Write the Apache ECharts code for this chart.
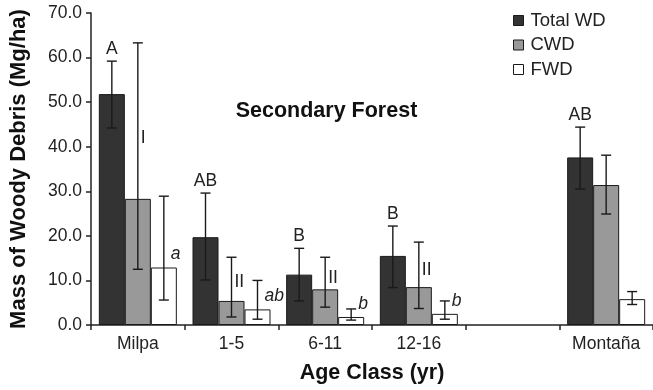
<!DOCTYPE html>
<html>
<head>
<meta charset="utf-8">
<script src="https://cdn.jsdelivr.net/npm/echarts@6/dist/echarts.min.js"></script>
<style>
  html, body { margin: 0; padding: 0; background: #fff; }
  #chart { width: 653px; height: 390px; }
</style>
</head>
<body>
<div id="chart"></div>
<script type="text/javascript">
    // data (Mg/ha)
    var categories = ['Milpa', '1-5', '6-11', '12-16', '', 'Montaña'];
    var seriesNames = ['Total WD', 'CWD', 'FWD'];

    var totalWD = [51.8, 19.7, 11.3, 15.5, null, 37.6];
    var totalLo = [44.2, 10.1, 5.4, 8.4, null, 30.5];
    var totalHi = [59.2, 29.6, 17.2, 22.2, null, 44.4];

    var cwd = [28.3, 5.4, 8.0, 8.5, null, 31.4];
    var cwdLo = [12.5, 1.8, 4.0, 3.7, null, 24.9];
    var cwdHi = [63.3, 15.2, 15.2, 18.6, null, 38.1];

    var fwd = [12.9, 3.5, 1.8, 2.5, null, 5.8];
    var fwdLo = [5.6, 1.3, 1.1, 1.3, null, 4.6];
    var fwdHi = [28.9, 10.0, 3.6, 5.4, null, 7.5];

    // significance letters
    var totalLetters = ['A', 'AB', 'B', 'B', '', 'AB'];
    var cwdLetters = ['I', 'II', 'II', 'II', '', ''];
    var fwdLetters = ['a', 'ab', 'b', 'b', '', ''];

    var yTicks = [0, 10, 20, 30, 40, 50, 60, 70];

    var FONT = 'Liberation Sans, Arial, sans-serif';
    var BAR_W = 26;
    var colors = ['#333333', '#999999', '#ffffff'];

    var myChart = echarts.init(document.getElementById('chart'));

    function barData(vals) {
        return vals.map(function (v) { return v == null ? '-' : v; });
    }

    function errData(vals, lo, hi) {
        var out = [];
        for (var i = 0; i < vals.length; i++) {
            if (vals[i] != null) out.push([i, vals[i], lo[i], hi[i]]);
        }
        return out;
    }

    // error bars + letters, drawn on top of the bars
    function errSeries(k, vals, lo, hi, letters) {
        return {
            name: seriesNames[k] + ' err',
            type: 'custom',
            z: 5,
            data: errData(vals, lo, hi),
            encode: { x: 0, y: [2, 3] },
            renderItem: function (params, api) {
                var i = api.value(0);
                var pTop = api.coord([i, api.value(1)]);
                var pLo = api.coord([i, api.value(2)]);
                var pHi = api.coord([i, api.value(3)]);
                var x = pTop[0] + (k - 1) * BAR_W;
                var lineStyle = { stroke: '#1a1a1a', lineWidth: 1.4 };
                var kids = [
                    { type: 'line', shape: { x1: x, y1: pHi[1], x2: x, y2: pLo[1] }, style: lineStyle },
                    { type: 'line', shape: { x1: x - 5, y1: pHi[1], x2: x + 5, y2: pHi[1] }, style: lineStyle },
                    { type: 'line', shape: { x1: x - 5, y1: pLo[1], x2: x + 5, y2: pLo[1] }, style: lineStyle }
                ];
                var txt = letters[i];
                if (txt) {
                    var st = { text: txt, fill: '#222', fontFamily: FONT, fontSize: 17.5 };
                    if (k === 0) {
                        st.x = x; st.y = pHi[1] - 3; st.align = 'center'; st.verticalAlign = 'bottom';
                    } else if (k === 1) {
                        st.x = x + 3; st.y = pHi[1] + 0.42 * (pLo[1] - pHi[1]);
                        st.align = 'left'; st.verticalAlign = 'middle';
                    } else {
                        st.x = x + 7; st.y = pTop[1] - 13; st.fontStyle = 'italic';
                        st.align = 'left'; st.verticalAlign = 'middle';
                    }
                    kids.push({ type: 'text', style: st });
                }
                return { type: 'group', children: kids };
            }
        };
    }

    function barSeries(k, vals) {
        return {
            name: seriesNames[k],
            type: 'bar',
            barWidth: BAR_W,
            barGap: '0%',
            data: barData(vals),
            itemStyle: { color: colors[k], borderColor: '#1a1a1a', borderWidth: 1 }
        };
    }

    var option = {
        animation: false,
        backgroundColor: '#fff',
        textStyle: { fontFamily: FONT },
        title: {
            text: 'Secondary Forest',
            left: 'center',
            top: 100,
            padding: 0,
            textStyle: { fontFamily: FONT, fontSize: 21.5, fontWeight: 'bold', color: '#111' }
        },
        legend: {
            orient: 'vertical',
            left: 513,
            top: 11,
            padding: 0,
            icon: 'rect',
            itemWidth: 10,
            itemHeight: 10,
            itemGap: 5.5,
            data: seriesNames,
            textStyle: { fontFamily: FONT, fontSize: 18.5, color: '#222', padding: [0, 0, 0, 2] },
            itemStyle: { borderColor: '#1a1a1a', borderWidth: 1 }
        },
        grid: { left: 90, right: 0, top: 13, bottom: 65 },
        xAxis: {
            type: 'category',
            data: categories,
            name: 'Age Class (yr)',
            nameLocation: 'middle',
            nameGap: 37,
            nameTextStyle: { fontFamily: FONT, fontSize: 21.5, fontWeight: 'bold', color: '#111' },
            axisLine: { lineStyle: { color: '#222', width: 1.5 } },
            axisTick: { show: true, interval: 0, length: 5, lineStyle: { color: '#222', width: 1.5 } },
            axisLabel: { interval: 0, margin: 10, fontFamily: FONT, fontSize: 17.5, color: '#222' }
        },
        yAxis: {
            type: 'value',
            min: yTicks[0],
            max: yTicks[yTicks.length - 1],
            interval: 10,
            name: 'Mass of Woody Debris (Mg/ha)',
            nameLocation: 'middle',
            nameGap: 61,
            nameTextStyle: { fontFamily: FONT, fontSize: 22, fontWeight: 'bold', color: '#111' },
            splitLine: { show: false },
            axisLine: { show: true, lineStyle: { color: '#222', width: 1.5 } },
            axisTick: { show: true, length: 5, lineStyle: { color: '#222', width: 1.5 } },
            axisLabel: {
                margin: 9, fontFamily: FONT, fontSize: 17.5, color: '#222',
                formatter: function (v) { return v.toFixed(1); }
            }
        },
        series: [
            barSeries(0, totalWD),
            barSeries(1, cwd),
            barSeries(2, fwd),
            errSeries(0, totalWD, totalLo, totalHi, totalLetters),
            errSeries(1, cwd, cwdLo, cwdHi, cwdLetters),
            errSeries(2, fwd, fwdLo, fwdHi, fwdLetters)
        ]
    };

    myChart.setOption(option);
</script>
</body>
</html>
